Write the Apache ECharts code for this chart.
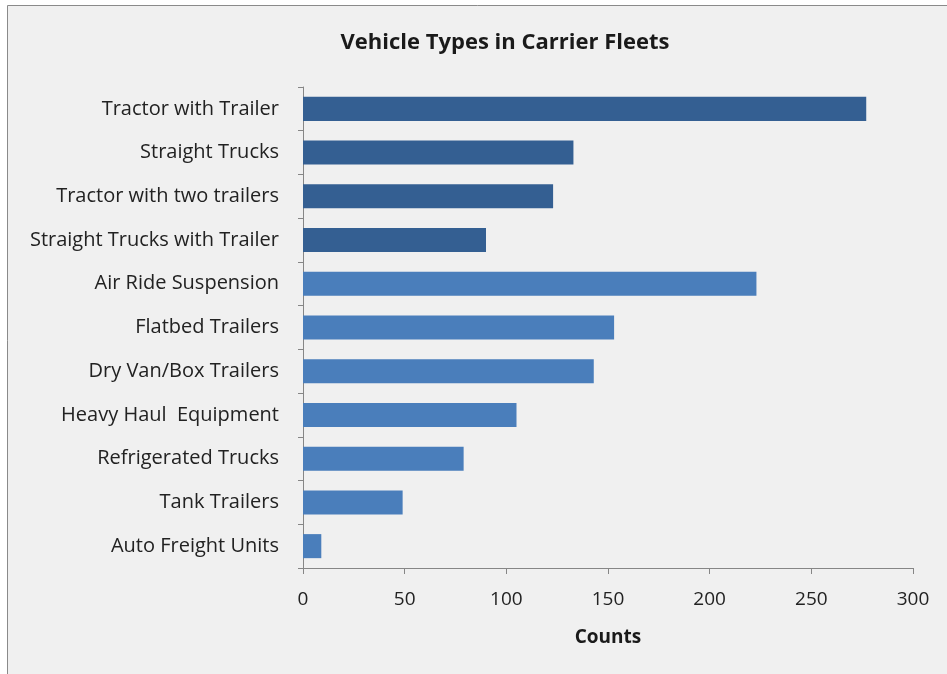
<!DOCTYPE html>
<html>
<head>
<meta charset="utf-8">
<script src="https://cdn.jsdelivr.net/npm/echarts@6/dist/echarts.min.js"></script>
<style>
  html, body { margin: 0; padding: 0; background: #ffffff; overflow: hidden; }
  #chart { width: 947px; height: 674px; }
</style>
</head>
<body>
<div id="chart"></div>
<script>
// categories, top to bottom as drawn
const categories = [
  "Tractor with Trailer",
  "Straight Trucks",
  "Tractor with two trailers",
  "Straight Trucks with Trailer",
  "Air Ride Suspension",
  "Flatbed Trailers",
  "Dry Van/Box Trailers",
  "Heavy Haul  Equipment",
  "Refrigerated Trucks",
  "Tank Trailers",
  "Auto Freight Units"
]
const counts = [277, 133, 123, 90, 223, 153, 143, 105, 79, 49, 9]
// first four are the darker group
const groups = ["dark", "dark", "dark", "dark", "light", "light", "light", "light", "light", "light", "light"]
const xTicks = [0, 50, 100, 150, 200, 250, 300]

const groupColor = { dark: "#345f92", light: "#4a7ebb" }

const chart = echarts.init(document.getElementById("chart"))

const option = {
  animation: false,
  textStyle: { fontFamily: "Open Sans" },
  graphic: [{
    type: "rect",
    z: -10,
    shape: { x: 7.5, y: 5.5, width: 960, height: 700 },
    style: { fill: "#f0f0f0", stroke: "#8a8a8a", lineWidth: 1 }
  }],
  title: {
    text: "Vehicle Types in Carrier Fleets",
    left: 500,
    textAlign: "center",
    top: 27,
    textStyle: { fontSize: 22, fontWeight: "bold", color: "#1a1a1a", fontFamily: "Open Sans" }
  },
  grid: { left: 303, right: 34, top: 87, bottom: 106 },
  xAxis: {
    type: "value",
    min: xTicks[0],
    max: xTicks[xTicks.length - 1],
    interval: 50,
    name: "Counts",
    nameLocation: "middle",
    nameGap: 60,
    nameTextStyle: { fontSize: 19, fontWeight: "bold", color: "#1a1a1a" },
    axisLine: { show: true, lineStyle: { color: "#868686" } },
    axisTick: { show: true, length: 6, lineStyle: { color: "#868686" } },
    axisLabel: { fontSize: 19, color: "#222", margin: 22 },
    splitLine: { show: false }
  },
  yAxis: {
    type: "category",
    inverse: true,
    data: categories,
    axisLine: { show: true, lineStyle: { color: "#868686" } },
    axisTick: { show: true, length: 5, inside: false, lineStyle: { color: "#868686" } },
    axisLabel: { fontSize: 20, color: "#222", margin: 24 }
  },
  series: [{
    type: "bar",
    barCategoryGap: "45%",
    data: counts.map((v, i) => ({
      value: v,
      itemStyle: { color: groupColor[groups[i]] }
    }))
  }]
}

chart.setOption(option)
</script>
</body>
</html>
